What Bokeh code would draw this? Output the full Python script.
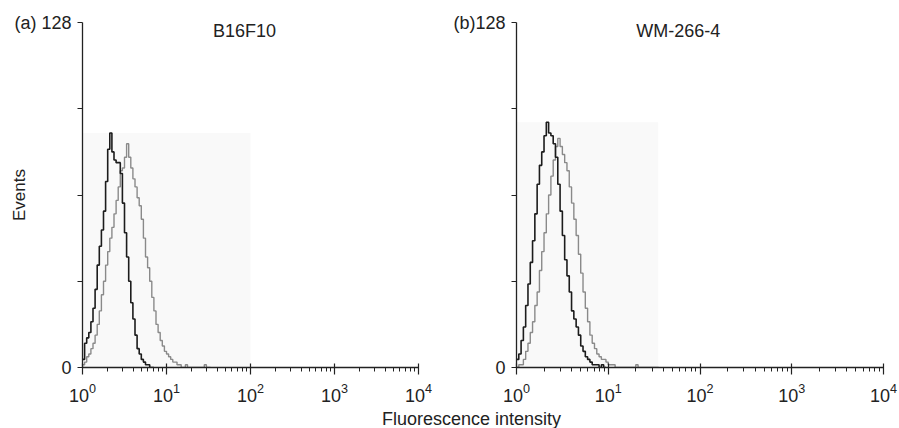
from bokeh.plotting import figure
from bokeh.layouts import column, row
from bokeh.models import FixedTicker, Label, Range1d, LogTickFormatter
from bokeh.embed import file_html
from bokeh.resources import INLINE

FONT = "Liberation Sans"

# Histogram channels: 40 channels per decade, starting at 10^0
CH_STEP = 0.025

# (a) B16F10 – events per channel
b16_control = [3, 9, 11, 13, 17, 22, 29, 38, 45, 51, 58, 69, 81, 87, 80, 77,
               76, 76, 72, 61, 50, 41, 32, 24, 18, 12, 7, 5, 3, 2, 1, 1, 0, 0]
b16_stained = [1, 2, 4, 5, 7, 9, 12, 16, 21, 27, 32, 38, 43, 48, 52, 57,
               62, 67, 73, 74, 78, 83, 78, 74, 70, 67, 63, 60, 55, 48, 41, 37,
               32, 26, 21, 16, 13, 10, 8, 6, 5, 4, 3, 2, 2, 1, 1, 0, 0, 1,
               0, 0, 0, 0, 0, 0, 0, 0, 1, 0, 0]

# (b) WM-266-4 – events per channel
wm_control = [3, 5, 10, 15, 23, 31, 39, 47, 57, 68, 75, 80, 86, 91, 87, 86,
              83, 78, 68, 58, 49, 40, 34, 28, 21, 18, 15, 12, 8, 6, 4, 3,
              2, 1, 1, 1, 0, 1, 0]
wm_stained = [0, 1, 1, 3, 6, 9, 13, 17, 23, 28, 36, 43, 50, 57, 64, 71,
              77, 82, 85, 82, 79, 76, 73, 67, 61, 55, 49, 42, 35, 28, 22, 17,
              12, 9, 7, 5, 4, 3, 3, 2, 1, 1, 1, 0, 0, 0, 0, 0, 0, 0,
              0, 0, 1, 0, 0, 0, 0, 0, 0, 0, 0, 0]

# upper edge of the shaded gate on the intensity axis
b16_gate_hi = 100
wm_gate_hi = 35

x_ticks = [1, 10, 100, 1000, 10000]
y_ticks = [0, 32, 64, 96, 128]
b16_y_labels = ["0", "", "", "", "(a) 128"]
wm_y_labels = ["0", "", "", "", "(b)128"]

INK = "#222222"


def steps(counts):
    edges = [10 ** (i * CH_STEP) for i in range(len(counts) + 1)]
    return edges, list(counts) + [counts[-1]]


def panel(title, y_labels, control, stained, gate_hi, width, left, right,
          title_x, events_label):
    p = figure(width=width, height=405, x_axis_type="log",
               x_range=Range1d(1, 10000), y_range=Range1d(0, 128),
               output_backend="svg", toolbar_location=None,
               min_border_left=left, min_border_right=right,
               min_border_top=22, min_border_bottom=38)
    p.outline_line_color = None
    p.grid.visible = False

    top = max(max(control), max(stained))
    p.quad(left=1, right=gate_hi, bottom=0, top=top,
           fill_color="#f9f9f9", line_color=None)

    xs, ys = steps(stained)
    p.step(xs, ys, mode="after", line_color="#8a8a8a", line_width=1.4)
    xs, ys = steps(control)
    p.step(xs, ys, mode="after", line_color="#1c1c1c", line_width=1.6)

    xa = p.xaxis[0]
    xa.ticker = FixedTicker(
        ticks=x_ticks,
        minor_ticks=[m * d for d in x_ticks[:-1] for m in range(2, 10)])
    xa.formatter = LogTickFormatter(min_exponent=0)
    xa.major_tick_in = 4
    xa.major_tick_out = 7
    xa.minor_tick_in = 0
    xa.minor_tick_out = 4
    xa.major_label_standoff = 8

    ya = p.yaxis[0]
    ya.ticker = FixedTicker(ticks=y_ticks, minor_ticks=[])
    ya.major_label_overrides = dict(zip(y_ticks, y_labels))
    ya.major_tick_in = 0
    ya.major_tick_out = 5
    ya.major_label_standoff = 6
    if events_label:
        ya.axis_label = "Events"
        ya.axis_label_text_font = FONT
        ya.axis_label_text_font_size = "17px"
        ya.axis_label_text_font_style = "normal"
        ya.axis_label_text_color = INK
        # the wide top label would push the title outward; pull it back
        ya.axis_label_standoff = -18

    for ax in (xa, ya):
        ax.axis_line_color = INK
        ax.axis_line_width = 1.3
        ax.major_tick_line_color = INK
        ax.major_tick_line_width = 1.2
        ax.minor_tick_line_color = INK
        ax.major_label_text_font = FONT
        ax.major_label_text_font_size = "18px"
        ax.major_label_text_color = INK

    p.add_layout(Label(x=title_x, y=125, text=title, text_font=FONT,
                       text_font_size="18px", text_color=INK,
                       text_align="center", text_baseline="middle"))
    return p


p1 = panel("B16F10", b16_y_labels, b16_control, b16_stained, b16_gate_hi,
           width=445, left=82, right=27, title_x=85, events_label=True)
p2 = panel("WM-266-4", wm_y_labels, wm_control, wm_stained, wm_gate_hi,
           width=454, left=71, right=16, title_x=58, events_label=False)

# shared axis title beneath both panels
p3 = figure(width=899, height=23, x_range=Range1d(0, 899),
            y_range=Range1d(0, 23), output_backend="svg",
            toolbar_location=None, x_axis_location=None,
            y_axis_location=None, min_border=0)
p3.outline_line_color = None
p3.grid.visible = False
p3.add_layout(Label(x=471, y=10, text="Fluorescence intensity",
                    text_font=FONT, text_font_size="18px",
                    text_color=INK, text_align="center",
                    text_baseline="middle"))

layout = column(row(p1, p2), p3)
open("out.html", "w").write(file_html(layout, INLINE))
